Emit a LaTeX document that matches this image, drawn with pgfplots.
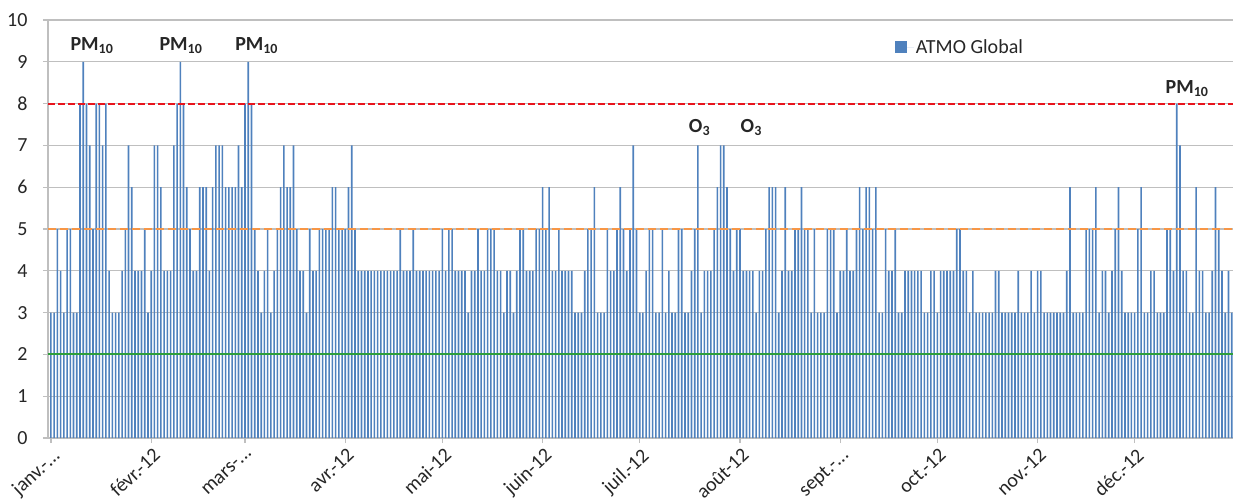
\documentclass[border=0pt]{standalone}
\usepackage{pgfplots}
\pgfplotsset{compat=1.18}
\usepackage{pgfplotstable}
\usepackage{fontspec}
\setmainfont{Carlito}
\definecolor{barblue}{HTML}{4F81BD}
\definecolor{limred}{HTML}{E8141C}
\definecolor{limorange}{HTML}{F79646}
\definecolor{limgreen}{HTML}{2E9E3A}
\definecolor{gridgray}{HTML}{BFBFBF}
\newcommand{\ddd}{.\kern0pt.\kern0pt.}

% daily ATMO index, 2012 (366 days), one month per line
\pgfplotstableread[row sep=\\]{v\\
3\\3\\5\\4\\3\\5\\5\\3\\3\\8\\9\\8\\7\\5\\8\\8\\7\\8\\4\\3\\3\\3\\4\\5\\7\\6\\4\\4\\4\\5\\3\\
4\\7\\7\\6\\4\\4\\4\\7\\8\\9\\8\\6\\5\\4\\4\\6\\6\\6\\4\\6\\7\\7\\7\\6\\6\\6\\6\\7\\6\\
8\\9\\8\\5\\4\\3\\4\\5\\3\\4\\5\\6\\7\\6\\6\\7\\5\\4\\4\\3\\5\\4\\4\\5\\5\\5\\5\\6\\6\\5\\5\\
5\\6\\7\\5\\4\\4\\4\\4\\4\\4\\4\\4\\4\\4\\4\\4\\4\\5\\4\\4\\4\\5\\4\\4\\4\\4\\4\\4\\4\\4\\
5\\4\\5\\5\\4\\4\\4\\4\\3\\4\\4\\5\\4\\4\\5\\5\\5\\4\\4\\3\\4\\4\\3\\4\\5\\5\\4\\4\\4\\5\\5\\
6\\5\\6\\4\\4\\5\\4\\4\\4\\4\\3\\3\\3\\4\\5\\5\\6\\3\\3\\3\\5\\4\\4\\5\\6\\5\\4\\5\\7\\5\\
3\\3\\4\\5\\5\\3\\3\\5\\3\\4\\3\\3\\5\\5\\3\\3\\4\\5\\7\\3\\4\\4\\4\\5\\6\\7\\7\\6\\5\\4\\5\\
5\\4\\4\\4\\4\\3\\4\\4\\5\\6\\6\\6\\3\\4\\6\\4\\4\\5\\5\\6\\5\\5\\3\\5\\3\\3\\3\\5\\5\\5\\3\\
4\\4\\5\\4\\4\\5\\6\\5\\6\\6\\5\\6\\3\\3\\5\\4\\4\\5\\3\\3\\4\\4\\4\\4\\4\\4\\3\\3\\4\\4\\
3\\4\\4\\4\\4\\4\\5\\5\\4\\4\\3\\4\\3\\3\\3\\3\\3\\3\\4\\4\\3\\3\\3\\3\\3\\4\\3\\3\\3\\4\\3\\
4\\4\\3\\3\\3\\3\\3\\3\\3\\4\\6\\3\\3\\3\\3\\5\\5\\5\\6\\3\\4\\4\\3\\4\\5\\6\\4\\3\\3\\3\\
3\\5\\6\\3\\3\\4\\4\\3\\3\\3\\5\\5\\4\\8\\7\\4\\4\\3\\3\\6\\4\\4\\3\\3\\4\\6\\5\\4\\3\\4\\3\\
}\atmo

\begin{document}
\begin{tikzpicture}
\begin{axis}[
  scale only axis, width=1185pt, height=418pt,
  xmin=-0.9, xmax=365.4, ymin=0, ymax=10,
  ytick={0,1,2,3,4,5,6,7,8,9,10},
  xtick={0,31,60,91,121,152,182,213,244,274,305,335},
  xticklabels={{janv.-\ddd},{févr.-12},{mars-\ddd},{avr.-12},{mai-12},{juin-12},{juil.-12},{août-12},{sept.-\ddd},{oct.-12},{nov.-12},{déc.-12}},
  xticklabel style={xshift=1pt, yshift=1pt, rotate=43, anchor=north east, font=\fontsize{20}{22}\selectfont, text=black!85},
  yticklabel style={font=\fontsize{20}{24}\selectfont, xshift=-12pt, text=black!85},
  /pgf/number format/assume math mode=true,
  ymajorgrids, grid style={gridgray, line width=1.3pt},
  axis x line*=bottom, axis y line*=left,
  axis line style={gridgray, line width=1.3pt},
  tick align=outside, major tick length=5pt,
  tick style={gridgray, line width=1.3pt},
  legend style={draw=none, fill=none, at={(0.712,0.935)}, anchor=west,
    font=\fontsize{20}{24}\selectfont, text=black!85},
  clip=false,
]
\addplot[ybar, bar width=0.5, fill=barblue, draw=none,
  legend image code/.code={\fill[barblue] (0pt,-6pt) rectangle (12pt,6pt); \path (0pt,0pt) -- (19pt,0pt);}]
  table[x expr=\coordindex, y=v] {\atmo};
\addlegendentry{ATMO Global}
\addplot[forget plot, limred, line width=2pt, dash pattern=on 7pt off 3pt] coordinates {(-0.9,8) (365.4,8)};
\addplot[forget plot, limorange, line width=2pt, dash pattern=on 8pt off 4pt] coordinates {(-0.9,5) (365.4,5)};
\addplot[forget plot, limgreen, line width=2pt] coordinates {(-0.9,2) (365.4,2)};
\node[font=\bfseries\fontsize{20}{24}\selectfont, text=black!85] at (axis cs:12.7,9.38) {PM\textsubscript{10}};
\node[font=\bfseries\fontsize{20}{24}\selectfont, text=black!85] at (axis cs:40.2,9.38) {PM\textsubscript{10}};
\node[font=\bfseries\fontsize{20}{24}\selectfont, text=black!85] at (axis cs:63.6,9.38) {PM\textsubscript{10}};
\node[font=\bfseries\fontsize{20}{24}\selectfont, text=black!85] at (axis cs:351.2,8.37) {PM\textsubscript{10}};
\node[font=\bfseries\fontsize{20}{24}\selectfont, text=black!85] at (axis cs:200.5,7.42) {O\textsubscript{3}};
\node[font=\bfseries\fontsize{20}{24}\selectfont, text=black!85] at (axis cs:216.5,7.42) {O\textsubscript{3}};
\end{axis}
\pgfresetboundingbox
\path[use as bounding box] ([xshift=-48pt,yshift=-63pt]current axis.south west) rectangle ([xshift=1pt,yshift=20pt]current axis.north east);
\end{tikzpicture}
\end{document}
